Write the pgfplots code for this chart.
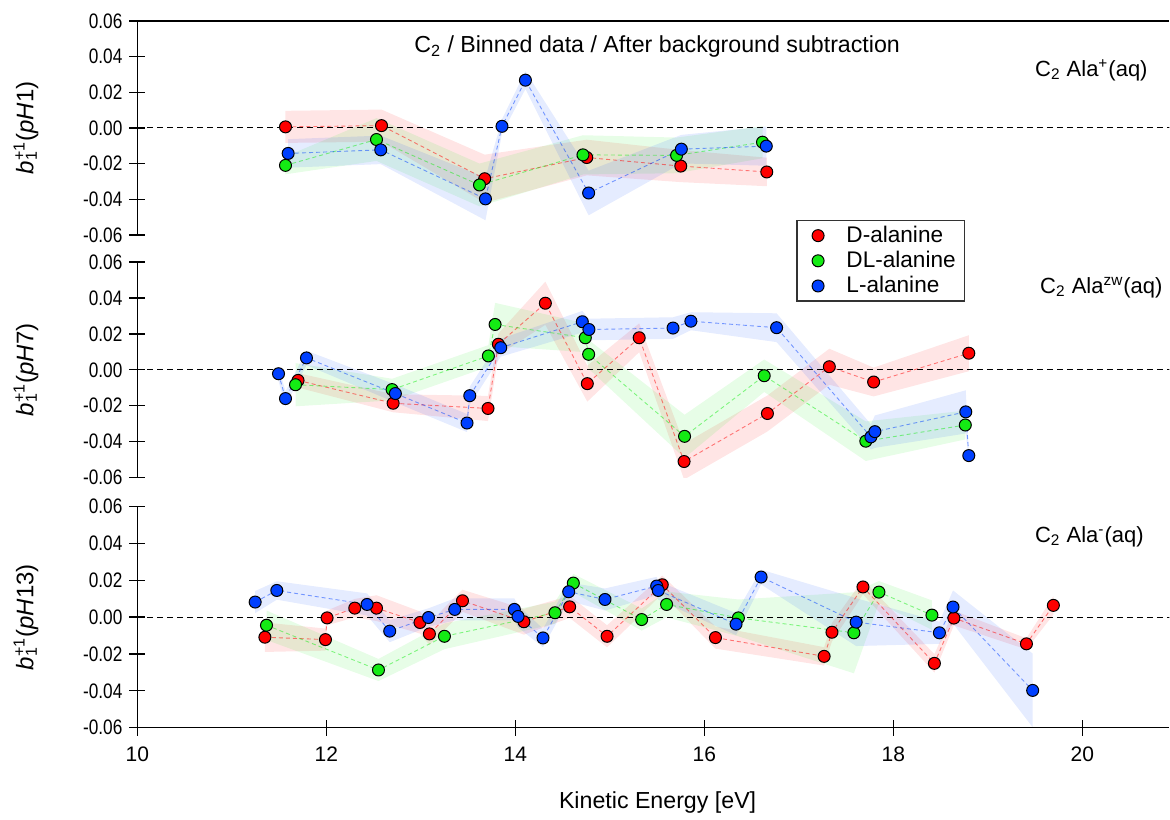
\documentclass[border=0pt]{standalone}
\usepackage{pgfplots}
\pgfplotsset{compat=1.18}
\usepackage{pgfplotstable}
\usepgfplotslibrary{fillbetween}
\usepackage{fontspec}
\setmainfont{Liberation Sans}
\newfontfamily\narrowfont[FakeStretch=0.82]{Liberation Sans}

\definecolor{cR}{RGB}{255,0,0}
\definecolor{cG}{RGB}{20,235,20}
\definecolor{cB}{RGB}{0,64,255}

% ---------------- Panel 1 (pH 1) ----------------
\pgfplotstableread{
x y e
11.567 0.0006 0.009
12.583 0.0013 0.009
13.675 -0.0285 0.0135
14.755 -0.0166 0.010
15.750 -0.0214 0.009
16.660 -0.0247 0.008
}\pOneD
\pgfplotstableread{
x y e
11.567 -0.0210 0.005
12.530 -0.0065 0.012
13.620 -0.0320 0.012
14.715 -0.0151 0.011
15.706 -0.0154 0.010
16.615 -0.0080 0.009
}\pOneDL
\pgfplotstableread{
x y e
11.595 -0.0143 0.008
12.575 -0.0123 0.008
13.683 -0.0398 0.012
13.858 0.0009 0.004
14.106 0.0268 0.005
14.775 -0.0365 0.0125
15.756 -0.0119 0.008
16.655 -0.0102 0.011
}\pOneL

% ---------------- Panel 2 (pH 7) ----------------
\pgfplotstableread{
x y e
11.700 -0.0059 0.004
12.706 -0.0186 0.005
13.710 -0.0215 0.007
13.820 0.0142 0.006
14.317 0.0370 0.012
14.761 -0.0077 0.010
15.310 0.0178 0.008
15.785 -0.0510 0.010
16.667 -0.0243 0.010
17.322 0.0017 0.010
17.791 -0.0068 0.008
18.798 0.0092 0.010
}\pTwoD
\pgfplotstableread{
x y e
11.673 -0.0083 0.012
12.695 -0.0110 0.006
13.714 0.0077 0.006
13.785 0.0252 0.012
14.740 0.0178 0.008
14.775 0.0086 0.008
15.790 -0.0370 0.012
16.633 -0.0033 0.009
17.708 -0.0397 0.011
18.761 -0.0307 0.008
}\pTwoDL
\pgfplotstableread{
x y e
11.493 -0.0022 0.004
11.567 -0.0160 0.004
11.789 0.0066 0.004
12.730 -0.0132 0.005
13.488 -0.0296 0.005
13.517 -0.0144 0.005
13.845 0.0123 0.005
14.708 0.0267 0.006
14.778 0.0224 0.006
15.668 0.0232 0.006
15.857 0.0270 0.005
16.764 0.0234 0.008
17.762 -0.0373 0.007
17.804 -0.0344 0.009
18.766 -0.0234 0.012
18.798 -0.0477 0.002
}\pTwoL

% ---------------- Panel 3 (pH 13) ----------------
\pgfplotstableread{
x y e
11.349 -0.0109 0.008
11.990 -0.0122 0.006
12.007 -0.0004 0.004
12.300 0.0049 0.005
12.530 0.0049 0.007
12.990 -0.0029 0.006
13.090 -0.0091 0.006
13.440 0.0089 0.006
14.090 -0.0025 0.007
14.574 0.0056 0.006
14.970 -0.0104 0.006
15.554 0.0176 0.005
16.117 -0.0111 0.006
17.267 -0.0213 0.005
17.350 -0.0082 0.005
17.678 0.0164 0.004
18.434 -0.0251 0.005
18.640 -0.0005 0.004
19.408 -0.0145 0.003
19.693 0.0064 0.005
}\pThreeD
\pgfplotstableread{
x y e
11.366 -0.0044 0.008
12.551 -0.0287 0.006
13.249 -0.0104 0.007
14.419 0.0024 0.006
14.613 0.0185 0.005
15.336 -0.0013 0.006
15.600 0.0069 0.007
16.360 -0.0004 0.010
17.582 -0.0085 0.022
17.847 0.0136 0.006
18.408 0.0011 0.008
}\pThreeDL
\pgfplotstableread{
x y e
11.246 0.0082 0.006
11.475 0.0145 0.005
12.430 0.0069 0.006
12.670 -0.0076 0.006
13.080 -0.0002 0.005
13.358 0.0042 0.006
13.989 0.0042 0.006
14.028 0.0004 0.006
14.292 -0.0113 0.005
14.564 0.0138 0.005
14.948 0.0096 0.006
15.495 0.0169 0.005
15.512 0.0145 0.005
16.335 -0.0038 0.006
16.600 0.0218 0.004
17.606 -0.0027 0.013
18.487 -0.0085 0.006
18.631 0.0055 0.009
19.474 -0.0398 0.020
}\pThreeL

\newcommand{\series}[3]{%
  \addplot[name path=#3u, draw=none, forget plot] table[x=x, y expr=\thisrow{y}+\thisrow{e}] {#1};
  \addplot[name path=#3l, draw=none, forget plot] table[x=x, y expr=\thisrow{y}-\thisrow{e}] {#1};
  \addplot[fill=#2, fill opacity=0.1, draw=none, forget plot] fill between[of=#3u and #3l];
  \addplot[#2, line width=0.45pt, dash pattern=on 2pt off 1.5pt, opacity=0.5, forget plot] table[x=x, y=y] {#1};
  \addplot[only marks, mark=*, mark size=3pt, mark options={fill=#2, draw=black, line width=0.5pt}] table[x=x, y=y] {#1};
}
\newcommand{\blab}[1]{\textit{b}\rlap{\textsubscript{1}}\textsuperscript{+1}(\textit{pH}#1)}

\pgfplotsset{
  panel/.style={
    scale only axis,
    width=516.25pt,
    xmin=10, xmax=20.92,
    ymin=-0.06, ymax=0.06,
    enlargelimits=false,
    scaled y ticks=false,
    scaled x ticks=false,
    ytick={-0.06,-0.04,-0.02,0,0.02,0.04,0.06},
    yticklabels={-0.06,-0.04,-0.02,0.00,0.02,0.04,0.06},
    tick align=outside,
    major tick length=8pt,
    major tick style={line width=0.7pt, black},
    tick label style={font=\fontsize{10.5}{12}\selectfont},
    yticklabel style={font=\fontsize{10.5}{12}\narrowfont},
    anchor=north west,
  },
  lines/.style={
    axis line style={line width=0.7pt},
    every inner x axis line/.append style={-},
    every outer x axis line/.append style={-},
    every inner y axis line/.append style={-},
    every outer y axis line/.append style={-},
    x axis line style={-},
    y axis line style={-},
  },
  zeroline/.style={black, line width=0.55pt, dash pattern=on 3pt off 2pt, forget plot},
}

\begin{document}
\begin{tikzpicture}

% ---- Panel 1 ----
\begin{axis}[panel, at={(68.75pt,-10.5pt)}, height=107pt,
  axis y line=left, axis x line=top, xtick=\empty, lines]
\addplot[zeroline] coordinates {(10,0) (21,0)};
\series{\pOneD}{cR}{pa}
\series{\pOneDL}{cG}{pb}
\series{\pOneL}{cB}{pc}
\end{axis}

% ---- Panel 2 ----
\begin{axis}[panel, at={(68.75pt,-131pt)}, height=108pt,
  axis y line=left, axis x line=none, lines,
  legend cell align=left,
  legend image code/.code={\path[draw=none] (-7.5pt,0pt) -- (13pt,0pt); \draw[#1] plot coordinates {(0pt,0pt)};},
  legend style={at={(0.6387,1.194)}, anchor=north west, draw=black!80, line width=0.6pt,
    font=\fontsize{11.3}{13}\selectfont, inner xsep=3pt, inner ysep=1.5pt, row sep=0.5pt,
    nodes={inner sep=1.2pt}}]
\addplot[zeroline] coordinates {(10,0) (21,0)};
\series{\pTwoD}{cR}{qa}
\addlegendentry{D-alanine}
\series{\pTwoDL}{cG}{qb}
\addlegendentry{DL-alanine}
\series{\pTwoL}{cB}{qc}
\addlegendentry{L-alanine}
\end{axis}

% ---- Panel 3 ----
\begin{axis}[panel, at={(68.75pt,-253.5pt)}, height=110.5pt,
  axis y line=left, axis x line=bottom, lines,
  xtick={10,12,14,16,18,20},
  xticklabels={10,12,14,16,18,20},
  xticklabel style={yshift=-2pt}]
\addplot[zeroline] coordinates {(10,0) (21,0)};
\series{\pThreeD}{cR}{ra}
\series{\pThreeDL}{cG}{rb}
\series{\pThreeL}{cB}{rc}
\end{axis}

% axis titles and annotations
\node[font=\fontsize{12}{14}\selectfont, rotate=90] at (13pt,-64pt) {\blab{1}};
\node[font=\fontsize{12}{14}\selectfont, rotate=90] at (13pt,-185pt) {\blab{7}};
\node[font=\fontsize{12}{14}\selectfont, rotate=90] at (13pt,-308.75pt) {\blab{13}};
\node[font=\fontsize{11.6}{14}\selectfont] at (329pt,-401.5pt) {Kinetic Energy [eV]};
\node[font=\fontsize{11.6}{14}\selectfont] at (328.75pt,-23.5pt) {C\textsubscript{2} / Binned data / After background subtraction};
\node[font=\fontsize{11}{13}\selectfont] at (546pt,-35pt) {C\textsubscript{2} Ala\textsuperscript{+}(aq)};
\node[font=\fontsize{11}{13}\selectfont] at (551pt,-144pt) {C\textsubscript{2} Ala\textsuperscript{zw}(aq)};
\node[font=\fontsize{11}{13}\selectfont] at (545pt,-268.5pt) {C\textsubscript{2} Ala\textsuperscript{-}(aq)};
\path (0,0) rectangle (585pt,-408pt);
\end{tikzpicture}
\end{document}
